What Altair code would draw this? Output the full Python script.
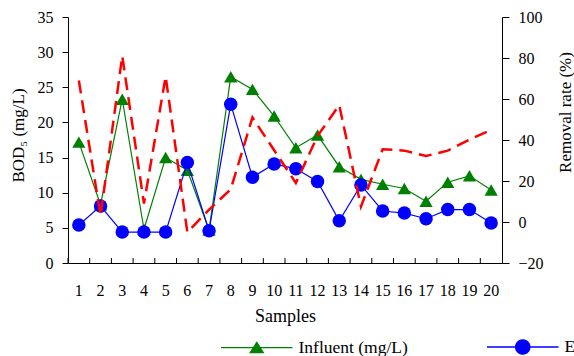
import math
import altair as alt
import pandas as pd

# ---------------- data ----------------
samples = list(range(1, 21))
influent = [17.2, 8.3, 23.3, 4.8, 15.0, 13.2, 4.7, 26.5, 24.7, 20.9,
            16.4, 18.2, 13.7, 11.9, 11.2, 10.6, 8.8, 11.5, 12.4, 10.4]
effluent = [5.4, 8.1, 4.4, 4.4, 4.4, 14.3, 4.6, 22.6, 12.2, 14.1,
            13.4, 11.6, 6.0, 11.1, 7.4, 7.1, 6.3, 7.6, 7.6, 5.7]
removal = [69, 3, 81, 9, 71, -5, 6, 16, 51, 35,
           19, 42, 57, 7.5, 35.5, 34.8, 32.2, 34.8, 40.2, 45]

series_names = ["Influent (mg/L)", "Effluent (mg/L)", "Removal rate (%)"]
series_colors = ["#008000", "#0000ff", "#ff0000"]
left_ticks = [0, 5, 10, 15, 20, 25, 30, 35]
right_ticks = [-20, 0, 20, 40, 60, 80, 100]

rows = []
for name, vals in zip(series_names, [influent, effluent, removal]):
    for s, v in zip(samples, vals):
        rows.append({"sample": s, "series": name, "value": v})
df = pd.DataFrame(rows)
df_samples = pd.DataFrame({"sample": samples})

FONT = "Liberation Serif"
W, H = 434, 246

color_scale = alt.Scale(domain=series_names, range=series_colors)
x_scale = alt.Scale(type="band", paddingInner=0, paddingOuter=0)

x_bottom = alt.X(
    "sample:O", scale=x_scale,
    axis=alt.Axis(orient="bottom", title="Samples", labelAngle=0, ticks=False,
                  tickSize=0, labelPadding=19, titleY=44, titleFontSize=18,
                  labelFontSize=16),
)
x_plain = alt.X("sample:O", scale=x_scale, axis=None)
y_left = alt.Y(
    "value:Q", scale=alt.Scale(domain=[0, 35], nice=False, zero=False),
    axis=alt.Axis(orient="left", values=left_ticks, title="BOD₅ (mg/L)",
                  tickSize=6, labelPadding=9, titleX=-50, titleY=118,
                  titleAlign="center", titleBaseline="middle", titleAngle=270,
                  titleFontSize=17, labelFontSize=16),
)
y_right = alt.Y(
    "value:Q", scale=alt.Scale(domain=[-20, 100], nice=False, zero=False),
    axis=alt.Axis(orient="right", values=right_ticks, title="Removal rate (%)",
                  tickSize=7, labelPadding=9, titleX=63, titleY=95,
                  titleAlign="center", titleBaseline="middle", titleAngle=270,
                  titleFontSize=17, labelFontSize=16),
)

# legend symbols: a short line with the marker on it
circ_pts = []
for k in range(24):
    a = 2 * math.pi * k / 24
    circ_pts.append(f"{1.1 * math.cos(a):.3f},{1.1 * math.sin(a):.3f}")
tri_path = "M-5.5,0L5.5,0M0,-0.8L1,0.75L-1,0.75Z"
circ_path = "M-5.5,0L5.5,0M" + "L".join(circ_pts) + "Z"
line_path = "M-5.5,0L5.5,0"
n0, n1 = series_names[0], series_names[1]
shape_expr = f"datum.value === '{n0}' ? '{tri_path}' : datum.value === '{n1}' ? '{circ_path}' : '{line_path}'"

legend = alt.Legend(
    orient="none", legendX=180, legendY=321, direction="horizontal", title=None,
    labelFont=FONT, labelFontSize=17.5, labelColor="black", labelOffset=33,
    symbolSize=169, symbolStrokeWidth=1.3, columnPadding=76, padding=0,
    labelLimit=400, symbolOpacity=1,
    symbolType={"expr": shape_expr},
)
color_enc = alt.Color("series:N", scale=color_scale, legend=legend)

base = alt.Chart(df)


def only(name):
    return base.transform_filter(alt.datum.series == name)


g_line = only(n0).mark_line(strokeWidth=1.2).encode(x=x_bottom, y=y_left, color=color_enc)
g_pts = only(n0).mark_point(filled=True, shape="triangle-up", size=175, opacity=1).encode(
    x=x_bottom, y=y_left, color=color_enc)
b_line = only(n1).mark_line(strokeWidth=1.2).encode(x=x_bottom, y=y_left, color=color_enc)
b_pts = only(n1).mark_point(filled=True, shape="circle", size=182, opacity=1).encode(
    x=x_bottom, y=y_left, color=color_enc)
left = alt.layer(g_line, g_pts, b_line, b_pts)

red = only(series_names[2]).mark_line(strokeWidth=2.5, strokeDash=[13, 7]).encode(
    x=x_plain, y=y_right, color=color_enc)

# inward x-axis ticks at the band boundaries
xticks = alt.Chart(df_samples).mark_rule(color="black", strokeWidth=1).encode(
    x=alt.X("sample:O", scale=x_scale, axis=None, bandPosition=0),
    y=alt.value(H), y2=alt.value(H - 5))

chart = (
    alt.layer(left, red, xticks)
    .resolve_scale(y="independent")
    .resolve_axis(x="independent", y="independent")
    .properties(width=W, height=H, autosize=alt.AutoSizeParams(type="none"),
                padding={"left": 68, "top": 17, "right": 72, "bottom": 93})
    .configure(font=FONT)
    .configure_view(stroke="transparent")
    .configure_axis(labelFont=FONT, titleFont=FONT, labelColor="black",
                    titleColor="black", domainColor="black", tickColor="black",
                    titleFontWeight="normal", grid=False, domainWidth=1)
    .configure_legend(labelFont=FONT, labelFontSize=17.5, labelColor="black")
)

chart.save("out.html", embed_options={"renderer": "svg", "actions": False})
